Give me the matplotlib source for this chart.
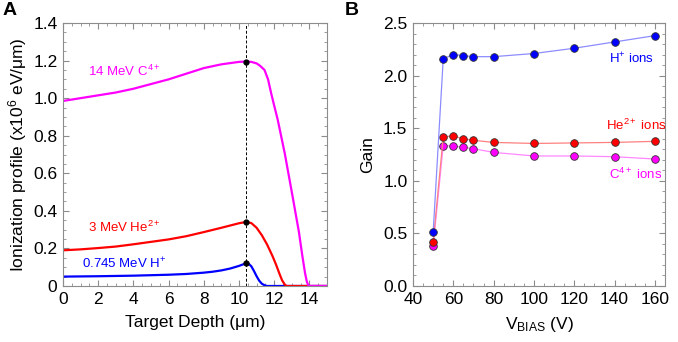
import numpy as np
import matplotlib
matplotlib.use('Agg')
import matplotlib.pyplot as plt
from matplotlib.ticker import MultipleLocator, FormatStrFormatter

plt.rcParams['font.family'] = ['Liberation Sans', 'DejaVu Sans']
plt.rcParams['mathtext.fontset'] = 'custom'
plt.rcParams['mathtext.rm'] = 'Liberation Sans'
plt.rcParams['mathtext.it'] = 'Liberation Sans'

# Panel A: ionization profiles (x10^6 eV/um) vs target depth (um)
depth_h = [0, 2, 4, 6, 7, 8, 8.5, 9, 9.5, 10, 10.2, 10.4, 10.55, 10.7, 10.85, 11.0,
           11.15, 11.3, 11.45, 11.6, 15]
ion_h = [0.05, 0.052, 0.055, 0.06, 0.064, 0.071, 0.076, 0.083, 0.093, 0.107, 0.114,
         0.121, 0.118, 0.105, 0.08, 0.052, 0.028, 0.012, 0.004, 0, 0]

depth_he = [0, 1, 2, 3, 4, 5, 6, 7, 8, 9, 9.5, 10, 10.4, 10.7, 11.0, 11.3, 11.6,
            11.9, 12.1, 12.3, 12.45, 12.6, 12.7, 15]
ion_he = [0.19, 0.195, 0.202, 0.21, 0.222, 0.235, 0.248, 0.265, 0.287, 0.31, 0.322,
          0.334, 0.341, 0.335, 0.31, 0.27, 0.22, 0.16, 0.115, 0.065, 0.03, 0.008, 0, 0]

depth_c = [0, 1, 2, 3, 4, 5, 6, 7, 8, 9, 10, 10.4, 10.7, 11.0, 11.2, 11.45, 11.65,
           11.83, 12.0, 12.2, 12.6, 13.0, 13.4, 13.6, 13.75, 13.85, 13.95, 15]
ion_c = [0.985, 1.0, 1.015, 1.03, 1.05, 1.075, 1.10, 1.13, 1.16, 1.18, 1.193, 1.195,
         1.193, 1.185, 1.172, 1.15, 1.10, 1.025, 0.96, 0.885, 0.706, 0.50, 0.29, 0.16,
         0.07, 0.025, 0, 0]

peak_depth = 10.4
peak_vals = [0.121, 0.341, 1.195]

# Panel B: gain vs bias voltage
vbias = [50, 55, 60, 65, 70, 80, 100, 120, 140, 160]
gain_h = [0.51, 2.16, 2.20, 2.19, 2.18, 2.18, 2.21, 2.26, 2.32, 2.38]
gain_he = [0.415, 1.42, 1.425, 1.40, 1.385, 1.365, 1.355, 1.36, 1.365, 1.375]
gain_c = [0.38, 1.335, 1.33, 1.318, 1.305, 1.27, 1.236, 1.236, 1.229, 1.207]

blue = '#0000ff'
red = '#ff0000'
magenta = '#ff00ff'
grey = '#8c8c8c'


def style_axes(ax):
    for s in ax.spines.values():
        s.set_color(grey)
        s.set_linewidth(0.8)
    ax.tick_params(which='both', direction='in', top=True, right=True, color=grey,
                   labelsize=12.5, pad=4)
    ax.tick_params(which='major', length=4)
    ax.tick_params(which='minor', length=2)


fig = plt.figure(figsize=(6.78, 3.42), dpi=100)
axA = fig.add_axes([63 / 678, 56 / 342, 264 / 678, 263 / 342])
axB = fig.add_axes([413 / 678, 56 / 342, 252 / 678, 263 / 342])

# ---- Panel A
axA.plot(depth_h, ion_h, color=blue, lw=1.6)
axA.plot(depth_he, ion_he, color=red, lw=1.6)
axA.plot(depth_c, ion_c, color=magenta, lw=1.6)
axA.axvline(peak_depth, color='black', lw=0.7, ls=(0, (3, 2)))
axA.plot([peak_depth] * 3, peak_vals, 'o', color='black', ms=3.5, zorder=5)
axA.set_xlim(0, 15)
axA.set_ylim(0, 1.4)
axA.xaxis.set_major_locator(MultipleLocator(2))
axA.xaxis.set_minor_locator(MultipleLocator(0.5))
axA.yaxis.set_minor_locator(MultipleLocator(0.05))
axA.set_yticks([0, 0.2, 0.4, 0.6, 0.8, 1.0, 1.2, 1.4])
axA.set_yticklabels(['0', '0.2', '0.4', '0.6', '0.8', '1.0', '1.2', '1.4'])
style_axes(axA)
axA.set_xlabel('Target Depth (\u03bcm)', fontsize=12.5, labelpad=6)
axA.set_ylabel('Ionization profile (x10$^{6}$ eV/\u03bcm)', fontsize=12.5, labelpad=3)
axA.text(1.43, 1.14, '14 MeV C$^{4+}$', color=magenta, fontsize=9.5, va='center')
axA.text(1.43, 0.31, '3 MeV He$^{2+}$', color=red, fontsize=9.5, va='center')
axA.text(1.07, 0.12, '0.745 MeV H$^{+}$', color=blue, fontsize=9.5, va='center')
fig.text(0.003, 0.995, 'A', fontsize=14, fontweight='bold', va='top', ha='left')

# ---- Panel B
mk = dict(marker='o', ms=5.5, mec='#333333', mew=0.6)
axB.plot(vbias, gain_c, color='#ff88ff', lw=0.9, mfc=magenta, **mk)
axB.plot(vbias, gain_he, color='#ff8080', lw=0.9, mfc=red, **mk)
axB.plot(vbias, gain_h, color='#8c8cff', lw=0.9, mfc=blue, **mk)
axB.set_xlim(40, 165)
axB.set_ylim(0, 2.5)
axB.xaxis.set_major_locator(MultipleLocator(20))
axB.xaxis.set_minor_locator(MultipleLocator(5))
axB.yaxis.set_major_locator(MultipleLocator(0.5))
axB.yaxis.set_minor_locator(MultipleLocator(0.1))
axB.yaxis.set_major_formatter(FormatStrFormatter('%.1f'))
style_axes(axB)
axB.set_xlabel('V$_{\\mathrm{BIAS}}$ (V)', fontsize=12.5, labelpad=6)
axB.set_ylabel('Gain', fontsize=12.5, labelpad=6)
axB.text(137.4, 2.16, 'H$^{+}$ ions', color=blue, fontsize=9.5, va='center')
axB.text(135.7, 1.525, 'He$^{2+}$ ions', color=red, fontsize=9.5, va='center')
axB.text(137.4, 1.06, 'C$^{4+}$ ions', color=magenta, fontsize=9.5, va='center')
fig.text(345 / 678, 0.995, 'B', fontsize=14, fontweight='bold', va='top', ha='left')

fig.savefig('out.png', dpi=100)
